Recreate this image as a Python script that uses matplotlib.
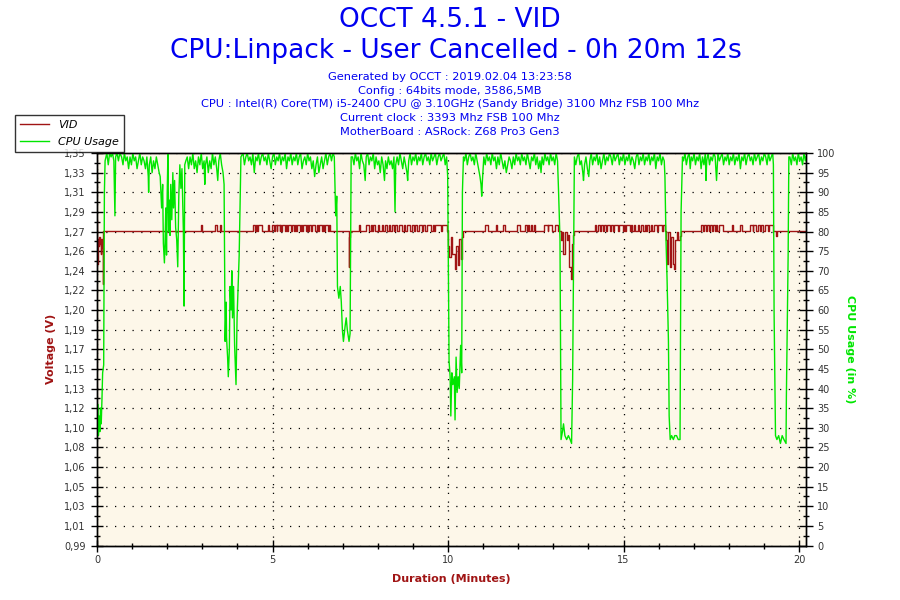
import matplotlib
matplotlib.use("Agg")
import matplotlib.pyplot as plt
from matplotlib.ticker import FixedLocator, MultipleLocator, FuncFormatter
from matplotlib.lines import Line2D
import numpy as np

duration = 20.2  # 0h 20m 12s

title_lines = ["OCCT 4.5.1 - VID", "CPU:Linpack - User Cancelled - 0h 20m 12s"]
info_lines = [
    "Generated by OCCT : 2019.02.04 13:23:58",
    "Config : 64bits mode, 3586,5MB",
    "CPU : Intel(R) Core(TM) i5-2400 CPU @ 3.10GHz (Sandy Bridge) 3100 Mhz FSB 100 Mhz",
    "Current clock : 3393 Mhz FSB 100 Mhz",
    "MotherBoard : ASRock: Z68 Pro3 Gen3",
]

# voltage axis: 21 labels that line up with the 0..100 % ticks
v_bottom = 0.9932
v_step = 0.0176

# CPU usage (minutes, %)
cpu_points = [
    (0.00, 30), (0.02, 36), (0.04, 28), (0.06, 33), (0.08, 29), (0.10, 35), (0.12, 31), (0.14, 37),
    (0.16, 44), (0.19, 46), (0.21, 90), (0.23, 98),
    (0.28, 100), (0.32, 97), (0.36, 100), (0.40, 99), (0.44, 100), (0.48, 98), (0.51, 84), (0.53, 99),
    (0.57, 100), (0.61, 98), (0.65, 100), (0.70, 99), (0.74, 97), (0.78, 100), (0.82, 98), (0.86, 99),
    (0.90, 96), (0.94, 99), (0.98, 97), (1.02, 100), (1.06, 98), (1.10, 99), (1.14, 96), (1.18, 98),
    (1.22, 100), (1.26, 97), (1.30, 99), (1.34, 98), (1.38, 96), (1.42, 99), (1.46, 94), (1.47, 90),
    (1.49, 97), (1.53, 99), (1.57, 95), (1.61, 98), (1.65, 96), (1.69, 99), (1.73, 97), (1.77, 95),
    (1.80, 94), (1.84, 86), (1.87, 92), (1.89, 77), (1.92, 72), (1.94, 78), (1.96, 86), (1.98, 74),
    (2.00, 90), (2.02, 100), (2.04, 80), (2.06, 88), (2.08, 79), (2.10, 92), (2.13, 83), (2.16, 95),
    (2.18, 86), (2.21, 93), (2.24, 81), (2.27, 78), (2.30, 71), (2.33, 89), (2.36, 97), (2.39, 91),
    (2.42, 96), (2.46, 80), (2.48, 61), (2.50, 97), (2.53, 98),
    (2.57, 99), (2.61, 96), (2.65, 99), (2.69, 97), (2.73, 100), (2.77, 96), (2.81, 98), (2.85, 95),
    (2.89, 99), (2.93, 97), (2.97, 100), (3.01, 96), (3.05, 98), (3.07, 92), (3.09, 97), (3.13, 99),
    (3.17, 95), (3.21, 98), (3.25, 96), (3.29, 100), (3.33, 97), (3.37, 99), (3.41, 96), (3.44, 93),
    (3.47, 98), (3.51, 100), (3.55, 97), (3.59, 95), (3.62, 92),
    (3.65, 52), (3.68, 62), (3.69, 53), (3.72, 48), (3.74, 43), (3.77, 50), (3.79, 66), (3.82, 60),
    (3.84, 70), (3.86, 58), (3.89, 66), (3.92, 51), (3.96, 41), (3.99, 58), (4.02, 66), (4.05, 74),
    (4.08, 90), (4.10, 99),
    (4.16, 100), (4.20, 97), (4.24, 99), (4.28, 100), (4.32, 98), (4.36, 99), (4.40, 97), (4.44, 100),
    (4.48, 95), (4.52, 99), (4.56, 98), (4.60, 100), (4.64, 97), (4.68, 99), (4.72, 100), (4.76, 98),
    (4.80, 99), (4.84, 97), (4.88, 100), (4.92, 98), (4.96, 96), (5.00, 99), (5.04, 100), (5.08, 97),
    (5.12, 99), (5.16, 98), (5.20, 100), (5.24, 97), (5.28, 99), (5.32, 98), (5.36, 100), (5.40, 96),
    (5.44, 99), (5.48, 98), (5.52, 100), (5.56, 97), (5.60, 99), (5.64, 98), (5.68, 100), (5.72, 97),
    (5.76, 99), (5.80, 100), (5.84, 96), (5.88, 98), (5.92, 99), (5.96, 97), (6.00, 100), (6.04, 98),
    (6.08, 99), (6.12, 96), (6.16, 98), (6.20, 94), (6.24, 97), (6.28, 99), (6.32, 95), (6.36, 97),
    (6.40, 99), (6.44, 96), (6.48, 98), (6.52, 100), (6.56, 97), (6.60, 99), (6.64, 100), (6.68, 98),
    (6.72, 100), (6.76, 99),
    (6.78, 92), (6.80, 84), (6.83, 89), (6.85, 66), (6.89, 63), (6.93, 66), (6.96, 62), (6.99, 55),
    (7.02, 52), (7.07, 56), (7.10, 58), (7.13, 55), (7.18, 52), (7.21, 54), (7.24, 99),
    (7.28, 99), (7.32, 97), (7.36, 100), (7.40, 98), (7.44, 99), (7.48, 96), (7.52, 100), (7.56, 98),
    (7.60, 97), (7.64, 93), (7.67, 99), (7.71, 100), (7.75, 97), (7.79, 99), (7.83, 98), (7.87, 100),
    (7.91, 96), (7.95, 99), (7.99, 97), (8.03, 98), (8.07, 95), (8.11, 99), (8.15, 97), (8.19, 93),
    (8.22, 98), (8.26, 96), (8.30, 99), (8.34, 97), (8.38, 98), (8.42, 96), (8.46, 99), (8.49, 85),
    (8.51, 97), (8.55, 99), (8.59, 97), (8.63, 100), (8.67, 98), (8.71, 96), (8.75, 99), (8.79, 97),
    (8.83, 95), (8.85, 93), (8.88, 98), (8.92, 100), (8.96, 97), (9.00, 99), (9.04, 98), (9.08, 100),
    (9.12, 97), (9.16, 99), (9.20, 98), (9.24, 100), (9.28, 97), (9.32, 99), (9.36, 100), (9.40, 98),
    (9.44, 99), (9.48, 97), (9.52, 100), (9.56, 98), (9.60, 99), (9.64, 100), (9.68, 97), (9.72, 99),
    (9.76, 100), (9.80, 98), (9.84, 99), (9.88, 100), (9.92, 97), (9.96, 99), (9.99, 94),
    (10.03, 47), (10.06, 43), (10.08, 33), (10.11, 44), (10.14, 41), (10.18, 43), (10.20, 32),
    (10.23, 48), (10.26, 39), (10.29, 43), (10.32, 40), (10.36, 51), (10.39, 44), (10.41, 90),
    (10.44, 99),
    (10.47, 98), (10.51, 100), (10.55, 97), (10.59, 99), (10.63, 100), (10.67, 98), (10.71, 99),
    (10.75, 97), (10.79, 100), (10.83, 98), (10.87, 96), (10.91, 94), (10.94, 92), (10.96, 89),
    (10.98, 93), (11.02, 99), (11.06, 97), (11.10, 100), (11.14, 98), (11.18, 99), (11.22, 97),
    (11.26, 100), (11.30, 98), (11.34, 99), (11.38, 96), (11.42, 99), (11.46, 97), (11.50, 100),
    (11.54, 98), (11.58, 96), (11.62, 98), (11.66, 95), (11.70, 97), (11.74, 99), (11.78, 98),
    (11.82, 96), (11.86, 99), (11.90, 97), (11.94, 100), (11.98, 98), (12.02, 99), (12.06, 97),
    (12.10, 100), (12.14, 98), (12.18, 99), (12.22, 97), (12.26, 100), (12.30, 98), (12.34, 96),
    (12.38, 99), (12.42, 98), (12.46, 100), (12.50, 97), (12.54, 99), (12.58, 96), (12.62, 98),
    (12.65, 95), (12.68, 99), (12.72, 97), (12.76, 100), (12.80, 98), (12.84, 99), (12.88, 97),
    (12.92, 100), (12.96, 98), (13.00, 99), (13.04, 97), (13.08, 100), (13.12, 98), (13.15, 90),
    (13.19, 78), (13.22, 27), (13.26, 29), (13.29, 31), (13.33, 28), (13.38, 27), (13.43, 28),
    (13.48, 27), (13.52, 26), (13.55, 42), (13.60, 99),
    (13.64, 97), (13.68, 99), (13.72, 100), (13.76, 97), (13.80, 98), (13.84, 95), (13.86, 93),
    (13.89, 97), (13.93, 99), (13.97, 96), (14.01, 94), (14.04, 98), (14.08, 100), (14.12, 97),
    (14.16, 99), (14.20, 98), (14.24, 100), (14.28, 97), (14.32, 99), (14.36, 96), (14.40, 98),
    (14.44, 100), (14.48, 97), (14.52, 99), (14.56, 98), (14.60, 100), (14.64, 99), (14.68, 97),
    (14.72, 100), (14.76, 98), (14.80, 99), (14.84, 100), (14.88, 97), (14.92, 99), (14.96, 98),
    (15.00, 100), (15.04, 97), (15.08, 99), (15.12, 98), (15.16, 100), (15.20, 97), (15.24, 99),
    (15.28, 98), (15.32, 96), (15.36, 99), (15.40, 100), (15.44, 97), (15.48, 99), (15.52, 98),
    (15.56, 100), (15.60, 97), (15.64, 99), (15.68, 98), (15.72, 100), (15.76, 97), (15.80, 99),
    (15.84, 98), (15.88, 100), (15.92, 96), (15.96, 99), (16.00, 98), (16.04, 100), (16.08, 97),
    (16.12, 99), (16.16, 98),
    (16.18, 94), (16.21, 78), (16.24, 68), (16.28, 52), (16.30, 33), (16.33, 27), (16.37, 28),
    (16.42, 27), (16.46, 28), (16.51, 28), (16.56, 27), (16.61, 27), (16.64, 85), (16.68, 99),
    (16.71, 98), (16.75, 100), (16.79, 97), (16.83, 99), (16.87, 100), (16.90, 96), (16.93, 99),
    (16.97, 98), (17.01, 100), (17.05, 97), (17.09, 99), (17.13, 98), (17.17, 100), (17.21, 96),
    (17.25, 99), (17.29, 97), (17.33, 100), (17.35, 93), (17.37, 98), (17.41, 100), (17.45, 97),
    (17.49, 99), (17.53, 98), (17.57, 100), (17.61, 99), (17.65, 93), (17.69, 100), (17.73, 98),
    (17.77, 99), (17.81, 100), (17.85, 97), (17.89, 99), (17.93, 98), (17.97, 100), (18.01, 97),
    (18.05, 99), (18.09, 98), (18.13, 100), (18.17, 97), (18.21, 99), (18.25, 98), (18.29, 100),
    (18.33, 96), (18.37, 99), (18.41, 98), (18.45, 100), (18.49, 97), (18.53, 99), (18.57, 100),
    (18.61, 98), (18.65, 99), (18.69, 97), (18.73, 100), (18.77, 98), (18.81, 99), (18.85, 100),
    (18.89, 97), (18.93, 99), (18.97, 98), (19.01, 100), (19.05, 99), (19.09, 97), (19.13, 100),
    (19.17, 98), (19.21, 99), (19.25, 100), (19.27, 97),
    (19.29, 59), (19.33, 28), (19.37, 27), (19.42, 28), (19.47, 26), (19.52, 28), (19.57, 27),
    (19.63, 26), (19.64, 38), (19.69, 74), (19.71, 99),
    (19.74, 99), (19.78, 97), (19.82, 100), (19.86, 98), (19.90, 99), (19.94, 97), (19.98, 100),
    (20.02, 98), (20.06, 99), (20.10, 97), (20.14, 100), (20.18, 98), (20.20, 99),
]

# VID (volts): two levels plus a few drops while load changes
vid_base = 1.2757
vid_high = 1.2802
vid_high_spans = [
    (2.95, 2.98), (3.36, 3.41), (3.50, 3.53),
    (4.45, 4.50), (4.53, 4.57), (4.60, 4.69), (4.88, 4.91), (4.98, 5.03), (5.07, 5.12), (5.14, 5.20),
    (5.22, 5.25), (5.28, 5.36), (5.39, 5.42), (5.45, 5.52), (5.55, 5.60), (5.63, 5.66), (5.70, 5.78),
    (5.80, 5.84), (5.87, 5.95), (5.98, 6.02), (6.05, 6.10), (6.13, 6.22), (6.26, 6.30), (6.33, 6.40),
    (6.43, 6.48), (6.50, 6.58), (6.60, 6.64),
    (7.45, 7.49), (7.66, 7.76), (7.80, 7.83), (7.86, 7.93), (8.00, 8.03), (8.12, 8.14), (8.20, 8.26),
    (8.32, 8.35), (8.40, 8.46), (8.50, 8.56), (8.60, 8.70), (8.74, 8.78), (8.82, 8.92), (8.96, 9.02),
    (9.06, 9.12), (9.16, 9.26), (9.30, 9.35), (9.40, 9.52), (9.56, 9.60), (9.64, 9.80), (9.84, 9.98),
    (11.04, 11.13), (11.37, 11.40), (11.58, 11.61), (11.96, 12.06), (12.19, 12.25), (12.27, 12.31),
    (12.36, 12.40), (12.44, 12.48), (12.74, 12.84), (12.86, 12.95), (13.05, 13.14),
    (14.19, 14.22), (14.28, 14.33), (14.36, 14.42), (14.45, 14.50), (14.53, 14.62), (14.65, 14.70),
    (14.73, 14.85), (14.88, 14.98), (15.01, 15.05), (15.08, 15.18), (15.21, 15.25), (15.30, 15.34),
    (15.40, 15.44), (15.50, 15.55), (15.60, 15.63), (15.68, 15.74), (15.78, 15.82), (15.86, 15.96),
    (15.99, 16.10), (16.12, 16.18),
    (17.20, 17.26), (17.29, 17.35), (17.37, 17.43), (17.46, 17.51), (17.56, 17.62), (17.64, 17.67),
    (17.73, 17.84), (18.08, 18.13), (18.32, 18.37), (18.60, 18.68), (18.70, 18.77), (18.84, 18.90),
    (18.93, 18.98), (19.03, 19.12), (19.15, 19.27),
]
vid_dips = [
    (0.00, 1.285), (0.005, 1.246), (0.02, 1.268), (0.04, 1.262), (0.06, 1.270), (0.08, 1.264),
    (0.10, 1.255), (0.12, 1.268), (0.14, 1.260), (0.16, 1.228), (0.18, vid_base),
    (7.17, 1.243), (7.19, 1.270), (7.22, vid_base),
    (10.00, 1.262), (10.04, 1.252), (10.08, 1.270), (10.12, 1.255), (10.20, 1.241), (10.24, 1.262),
    (10.28, 1.245), (10.32, 1.268), (10.36, 1.250), (10.40, 1.270), (10.44, vid_base),
    (13.22, 1.267), (13.26, 1.274), (13.29, 1.255), (13.33, 1.274), (13.38, 1.267), (13.42, 1.272),
    (13.46, 1.243), (13.50, 1.232), (13.53, 1.264), (13.56, 1.272), (13.60, vid_base),
    (16.21, 1.267), (16.25, 1.246), (16.28, 1.274), (16.32, 1.243), (16.36, 1.270), (16.40, 1.246),
    (16.44, 1.241), (16.48, 1.267), (16.52, 1.274), (16.56, 1.267), (16.60, 1.271), (16.63, vid_base),
    (19.33, 1.271), (19.36, vid_base),
]

vid_color = "#a01414"
cpu_color = "#00e600"
blue = "#0000f0"

cpu_time, cpu_usage = zip(*cpu_points)
vid_events = sorted(
    vid_dips
    + [(s, vid_high) for s, e in vid_high_spans]
    + [(e, vid_base) for s, e in vid_high_spans]
    + [(duration, vid_base)]
)
vid_time, vid_volts = zip(*vid_events)

fig = plt.figure(figsize=(9, 6), dpi=100)
fig.patch.set_facecolor("white")
ax = fig.add_axes([0.1078, 0.0908, 0.7878, 0.6542])
ax.set_facecolor("#fdf7e9")
ax2 = ax.twinx()

ax.step(vid_time, vid_volts, where="post", color=vid_color, lw=1)
ax2.plot(cpu_time, cpu_usage, color=cpu_color, lw=1)

ax.set_xlim(0, duration)
ax.set_ylim(v_bottom, v_bottom + 20 * v_step)
ax2.set_ylim(0, 100)

v_ticks = v_bottom + v_step * np.arange(21)
ax.yaxis.set_major_locator(FixedLocator(v_ticks))
ax.yaxis.set_minor_locator(FixedLocator(v_ticks[:-1] + v_step / 2))
ax.yaxis.set_major_formatter(FuncFormatter(lambda v, p: f"{v:.2f}".replace(".", ",")))
ax.xaxis.set_major_locator(MultipleLocator(5))
ax.xaxis.set_minor_locator(MultipleLocator(1))
ax2.yaxis.set_major_locator(MultipleLocator(5))
ax2.yaxis.set_minor_locator(MultipleLocator(2.5))

ax.grid(True, which="major", color="black", lw=0.9, linestyle=(0, (1, 6)))
ax.set_axisbelow(True)

tick_color = "#333333"
ax.tick_params(axis="y", which="major", direction="inout", length=8, width=1, labelsize=7,
               labelcolor=tick_color, pad=4)
ax.tick_params(axis="y", which="minor", direction="inout", length=4, width=1)
ax.tick_params(axis="x", which="major", direction="inout", length=8, width=1, labelsize=7,
               labelcolor=tick_color, pad=3)
ax.tick_params(axis="x", which="minor", direction="inout", length=4, width=1)
ax2.tick_params(axis="y", which="major", direction="inout", length=10, width=1, labelsize=7,
                labelcolor=tick_color, pad=3)
ax2.tick_params(axis="y", which="minor", direction="inout", length=5, width=1)

for a in (ax, ax2):
    for sp in a.spines.values():
        sp.set_color("black")
        sp.set_linewidth(1.0)

ax.set_ylabel("Voltage (V)", color=vid_color, fontsize=8, fontweight="bold")
ax.yaxis.set_label_coords(-0.058, 0.5)
ax.set_xlabel("Duration (Minutes)", color=vid_color, fontsize=8, fontweight="bold")
ax.xaxis.set_label_coords(0.5, -0.073)
ax2.set_ylabel("CPU Usage (in %)", color=cpu_color, fontsize=8, fontweight="bold",
               rotation=-90, va="center")
ax2.yaxis.set_label_coords(1.062, 0.5)

fig.text(0.5, 1 - 20 / 600, title_lines[0], ha="center", va="center", color=blue, fontsize=19)
fig.text(0.507, 1 - 51 / 600, title_lines[1], ha="center", va="center", color=blue, fontsize=19)
for i, line in enumerate(info_lines):
    fig.text(0.5, 1 - (77 + 13.7 * i) / 600, line, ha="center", va="center", color=blue, fontsize=8.2)

handles = [Line2D([], [], color=vid_color, lw=1), Line2D([], [], color=cpu_color, lw=1)]
leg = fig.legend(handles, ["VID", "CPU Usage"], loc="upper left",
                 bbox_to_anchor=(15 / 900, 1 - 115 / 600), frameon=True, fancybox=False,
                 edgecolor="black", borderaxespad=0, handlelength=2.6, labelspacing=0.6,
                 borderpad=0.45, prop={"style": "italic", "size": 8})
leg.get_frame().set_linewidth(1)
leg.set_zorder(10)

fig.savefig("out.png", dpi=100)
